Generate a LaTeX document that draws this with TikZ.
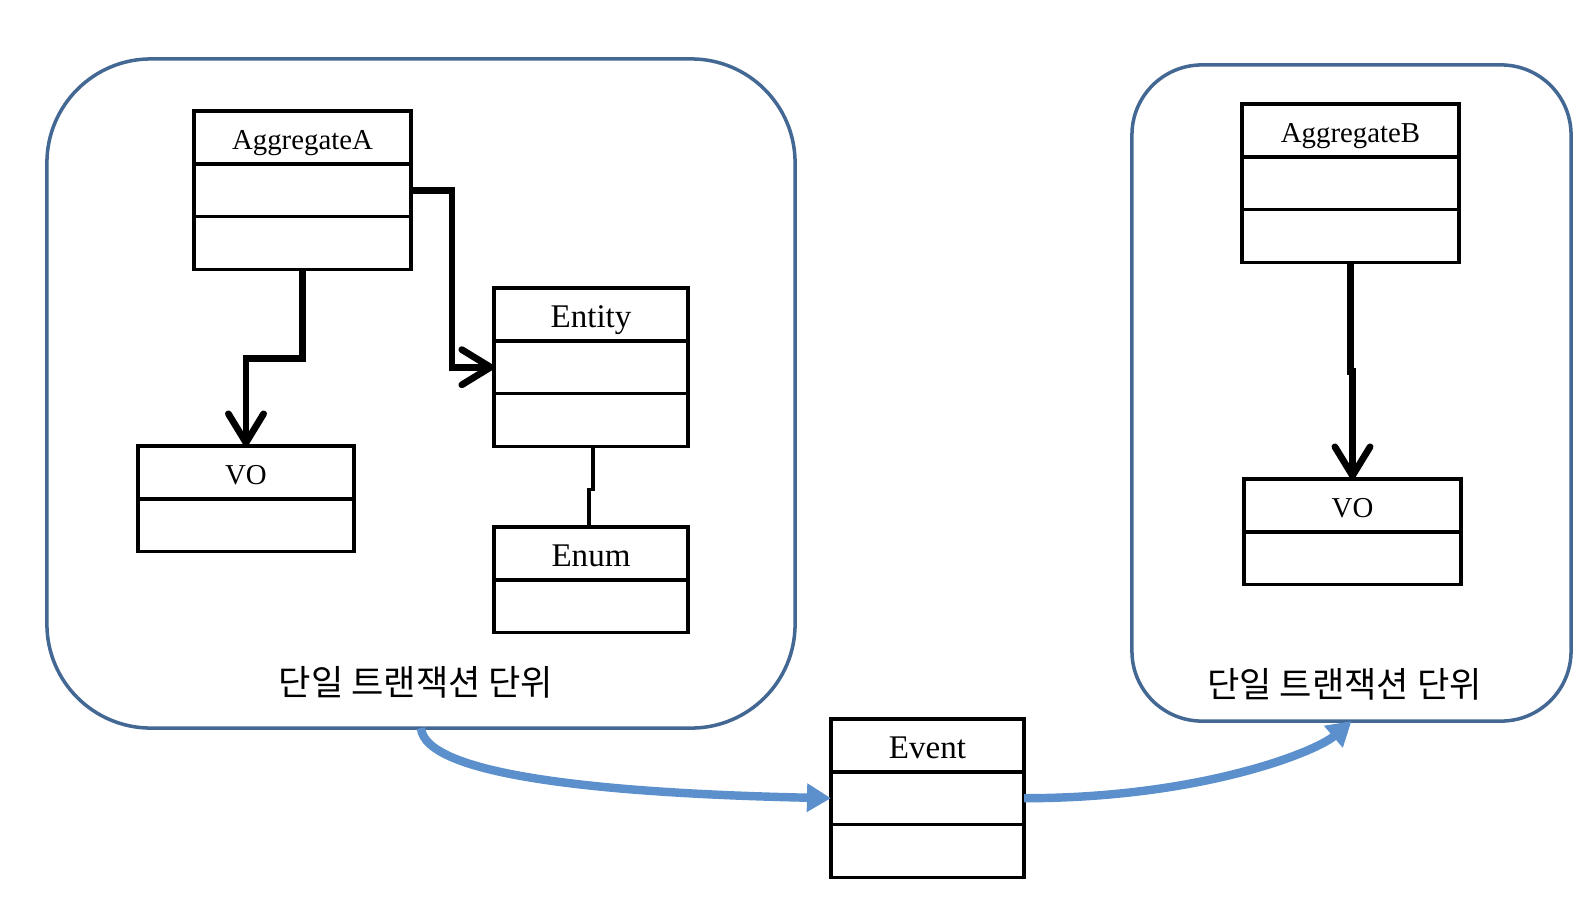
\documentclass[tikz,border=0pt]{standalone}
\usepackage{fontspec}
\setmainfont{Liberation Serif}
\newfontfamily\krfont{Noto Sans CJK KR}
\usetikzlibrary{arrows.meta,positioning,calc}
\definecolor{unitline}{RGB}{68,104,148}
\definecolor{evflow}{RGB}{91,144,205}

\begin{document}
\begin{tikzpicture}[x=0.025cm, y=-0.025cm,
  cls/.style={draw, line width=2.5pt, outer sep=0pt, inner sep=0pt, minimum width=#1, minimum height=1.32cm},
  namesm/.style={font=\fontsize{20.5}{24}\selectfont, text height=17pt, text depth=0pt},
  namelg/.style={font=\fontsize{23.5}{28}\selectfont, text height=18.5pt, text depth=0pt},
  unit/.style={draw=unitline, line width=2.5pt, outer sep=0pt, inner sep=0pt},
  unitlabel/.style={font=\krfont\fontsize{25}{30}\selectfont},
  flow/.style={-{Straight Barb[length=0.72cm, width=0.88cm, round]}, line width=4.8pt},
  link/.style={line width=2.5pt},
  evarrow/.style={-{Triangle[length=0.6cm, width=0.68cm]}, draw=evflow, line width=6pt}]
\useasboundingbox (0,0) rectangle (1594,902);

% transaction units
\node[unit, rounded corners=2.6cm, minimum width=18.7cm, minimum height=16.725cm] (unitA) at (421,393.5) {};
\node[unitlabel] (labelA) at ($(unitA.south)+(-5,-46)$) {단일 트랜잭션 단위};
\node[unit, rounded corners=1.75cm, minimum width=10.975cm, minimum height=16.4cm] (unitB) at (1351.5,393) {};
\node[unitlabel] (labelB) at ($(unitB.south)+(-7,-37)$) {단일 트랜잭션 단위};

% aggregate A
\node[cls=5.425cm, namesm] (aggA) at (302.5,137.4) {AggregateA};
\node[cls=5.425cm, below=0pt of aggA] (aggA1) {};
\node[cls=5.425cm, below=0pt of aggA1] (aggA2) {};

\node[cls=4.85cm, namelg] (ent) at (591,314.4) {Entity};
\node[cls=4.85cm, below=0pt of ent] (ent1) {};
\node[cls=4.85cm, below=0pt of ent1] (ent2) {};

\node[cls=5.4cm, namesm] (voA) at (246,472.4) {VO};
\node[cls=5.4cm, below=0pt of voA] (voA1) {};

\node[cls=4.85cm, namelg] (enum) at (591,553.4) {Enum};
\node[cls=4.85cm, below=0pt of enum] (enum1) {};

% aggregate B
\node[cls=5.425cm, namesm] (aggB) at (1350.5,130.4) {AggregateB};
\node[cls=5.425cm, below=0pt of aggB] (aggB1) {};
\node[cls=5.425cm, below=0pt of aggB1] (aggB2) {};

\node[cls=5.425cm, namesm] (voB) at (1352.5,505.4) {VO};
\node[cls=5.425cm, below=0pt of voB] (voB1) {};

% event
\node[cls=4.825cm, namelg] (ev) at (927.5,745.4) {Event};
\node[cls=4.825cm, below=0pt of ev] (ev1) {};
\node[cls=4.825cm, below=0pt of ev1] (ev2) {};

\draw[flow] (aggA2.south) -- ++(0,89) -| (voA.north);
\draw[flow] (aggA1.east) -- ++(41,0) |- (ent1.west);
\draw[link] ($(ent2.south)+(2,0)$) -- ++(0,43) -| ($(enum.north)+(-2,0)$);
\draw[flow] (aggB2.south) -- ++(0,109) -| (voB.north);

\draw[evarrow] (unitA.south) .. controls +(4,47) and +(-231,-5) .. (ev1.west);
\draw[evarrow] (ev1.east) .. controls +(176,0) and +(-36,31) .. (unitB.south);
\end{tikzpicture}
\end{document}
